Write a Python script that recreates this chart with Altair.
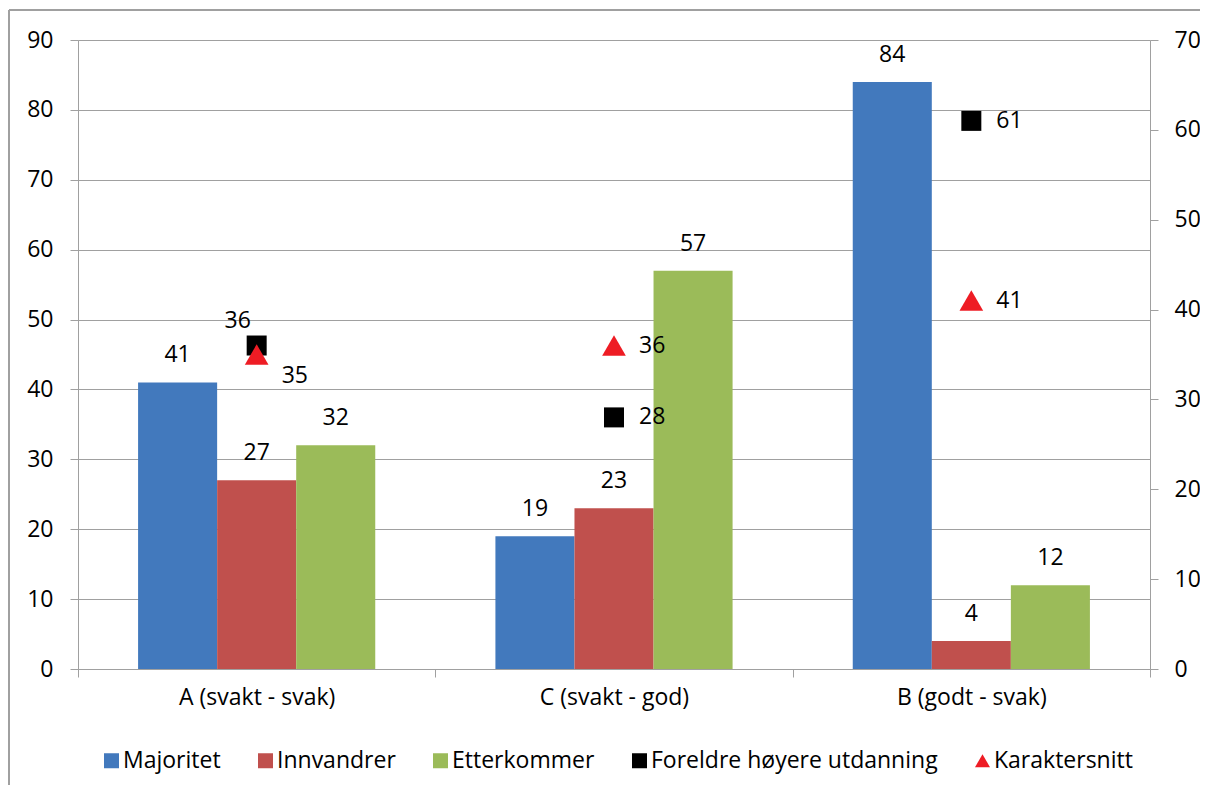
import altair as alt
import pandas as pd

categories = ["A (svakt - svak)", "C (svakt - god)", "B (godt - svak)"]
bar_series = ["Majoritet", "Innvandrer", "Etterkommer"]
point_series = ["Foreldre høyere utdanning", "Karaktersnitt"]
majoritet = [41, 19, 84]
innvandrer = [27, 23, 4]
etterkommer = [32, 57, 12]
foreldre = [36, 28, 61]
karakter = [35, 36, 41]
left_ticks = list(range(0, 91, 10))
right_ticks = list(range(0, 71, 10))

all_series = bar_series + point_series
colors = ["#4279BD", "#C0504D", "#9BBB59", "#000000", "#EE1C24"]
shapes = ["square", "square", "square", "square", "triangle-up"]

bars_df = pd.DataFrame(
    [{"kategori": c, "serie": s, "verdi": v}
     for s, vals in zip(bar_series, [majoritet, innvandrer, etterkommer])
     for c, v in zip(categories, vals)]
)
pts_df = pd.DataFrame(
    [{"kategori": c, "serie": s, "verdi": v}
     for s, vals in zip(point_series, [foreldre, karakter])
     for c, v in zip(categories, vals)]
)

FONT = "Open Sans"
GRAY = "#A0A0A0"
FS = 23

x_enc = alt.X(
    "kategori:N", sort=categories,
    scale=alt.Scale(paddingInner=0, paddingOuter=0),
    axis=alt.Axis(title=None, labelAngle=0, tickBand="extent", domainColor=GRAY,
                  tickColor=GRAY, tickSize=8, labelPadding=9, labelFontSize=FS,
                  labelFont=FONT, labelColor="black", grid=False),
)
xoff = alt.XOffset("serie:N", sort=bar_series, scale=alt.Scale(paddingInner=0, paddingOuter=0.76))
y_left = alt.Y(
    "verdi:Q", scale=alt.Scale(domain=[0, 90]),
    axis=alt.Axis(title=None, values=left_ticks, grid=True, gridColor=GRAY,
                  domainColor=GRAY, tickColor=GRAY, tickSize=8, labelPadding=17,
                  labelFontSize=FS, labelFont=FONT, labelColor="black"),
)
y_right = alt.Y(
    "verdi:Q", scale=alt.Scale(domain=[0, 70]),
    axis=alt.Axis(title=None, orient="right", values=right_ticks, grid=False,
                  domainColor=GRAY, tickColor=GRAY, tickSize=8, labelPadding=16,
                  labelFontSize=FS, labelFont=FONT, labelColor="black"),
)
color_scale = alt.Scale(domain=all_series, range=colors)
shape_scale = alt.Scale(domain=all_series, range=shapes)

bars = alt.Chart(bars_df).mark_bar().encode(
    x=x_enc, xOffset=xoff, y=y_left,
    color=alt.Color("serie:N", scale=color_scale, title=None),
)
bar_text = alt.Chart(bars_df).mark_text(dy=-27, font=FONT, fontSize=FS, color="black").encode(
    x=x_enc, xOffset=xoff, y=y_left, text="verdi:Q"
)
left = alt.layer(bars, bar_text)

points = alt.Chart(pts_df).mark_point(filled=True, opacity=1).encode(
    x=x_enc, y=y_right,
    color=alt.Color("serie:N", scale=color_scale, title=None),
    shape=alt.Shape("serie:N", scale=shape_scale, title=None),
    size=alt.Size("serie:N", scale=alt.Scale(domain=point_series, range=[400, 560]), legend=None),
)
base_pt = alt.Chart(pts_df).encode(x=x_enc, y=y_right, text="verdi:Q")
txt_other = base_pt.mark_text(align="left", dx=25, font=FONT, fontSize=FS, color="black").transform_filter(
    alt.datum.kategori != categories[0])
txt_a_sq = base_pt.mark_text(dx=-19, dy=-25, font=FONT, fontSize=FS, color="black").transform_filter(
    (alt.datum.kategori == categories[0]) & (alt.datum.serie == point_series[0]))
txt_a_tr = base_pt.mark_text(align="left", dx=25, dy=21, font=FONT, fontSize=FS, color="black").transform_filter(
    (alt.datum.kategori == categories[0]) & (alt.datum.serie == point_series[1]))
right = alt.layer(points, txt_other, txt_a_sq, txt_a_tr)

# outer chart frame (top and left edges visible in the reference)
frame_df = pd.DataFrame({"f": [0]})
frame_top = alt.Chart(frame_df).mark_rule(color=GRAY, strokeWidth=2).encode(
    x=alt.value(-69), x2=alt.value(1140), y=alt.value(-30))
frame_left = alt.Chart(frame_df).mark_rule(color=GRAY, strokeWidth=2).encode(
    x=alt.value(-69), y=alt.value(-30), y2=alt.value(760))

chart = alt.layer(left, right, frame_top, frame_left).resolve_scale(y="independent").properties(
    width=1072, height=629,
    autosize=alt.AutoSizeParams(type="none"),
    padding={"left": 70, "top": 32, "right": 50, "bottom": 116},
).configure_view(stroke=None).configure(background="white").configure_legend(
    orient="none", legendX=22, legendY=709, direction="horizontal",
    symbolSize=225, symbolStrokeWidth=0,
    labelFontSize=FS, labelFont=FONT, labelColor="black", labelLimit=0,
    labelOffset=0, columnPadding=33, symbolType="square",
)

chart.save("out.html", embed_options={"renderer": "svg", "actions": False})
